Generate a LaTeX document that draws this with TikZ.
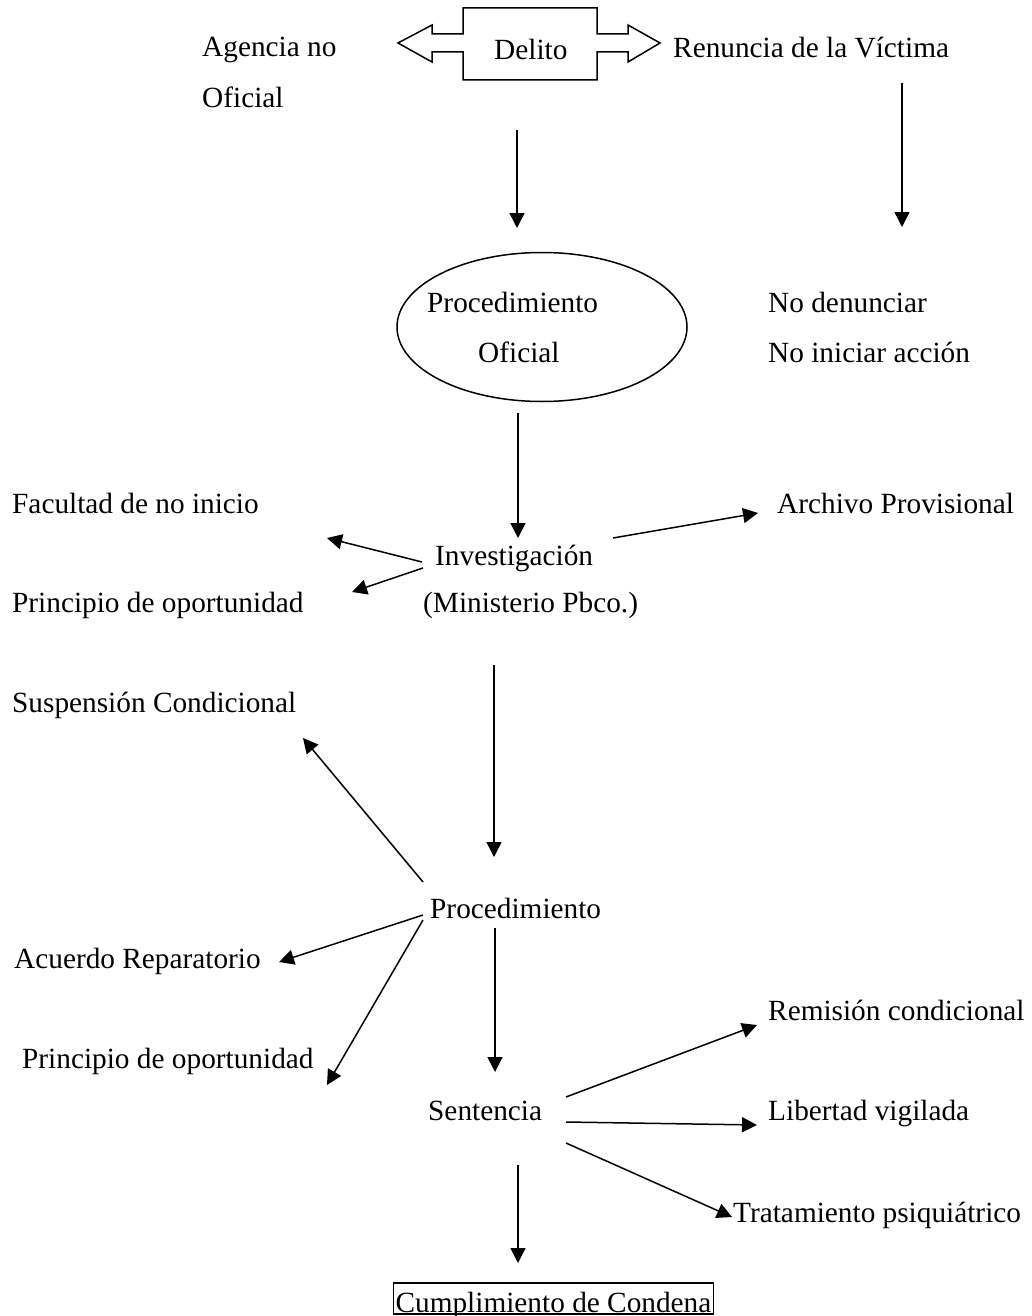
\documentclass[tikz,border=0pt]{standalone}
\usepackage{fontspec}
\setmainfont{Liberation Serif}
\usetikzlibrary{arrows.meta,shapes.geometric}
\begin{document}
\begin{tikzpicture}[x=1pt,y=-1pt,
  lbl/.style={anchor=base west,inner sep=0pt,font=\fontsize{29.3}{35}\selectfont},
  arr/.style={line width=1.5pt,-{Triangle[length=15pt,width=15pt]}},
  shp/.style={line width=1.5pt}]
\useasboundingbox (0,0) rectangle (1031,1316);
% Delito double arrow shape
\draw[shp] (463,8) -- (597,8) -- (597,34) -- (628,34) -- (628,25) -- (660,43) -- (628,62) -- (628,52) -- (597,52) -- (597,80) -- (463,80) -- (463,52) -- (432,52) -- (432,62) -- (398,43) -- (432,25) -- (432,34) -- (463,34) -- cycle;
\node[lbl] (delito) at (494,60) {Delito};
\node[lbl] (agencia) at (202,57) {Agencia no};
\node[lbl] (agencia2) at (202,108) {Oficial};
\node[lbl] (renuncia) at (673,58) {Renuncia de la Víctima};
% ellipse
\node[ellipse,draw,line width=1.5pt,minimum width=290pt,minimum height=149pt,inner sep=0pt] (elip) at (542,327) {};
\node[lbl] (procof) at (427,312) {Procedimiento};
\node[lbl] (procof2) at (478,362) {Oficial};
\node[lbl] (nodenun) at (768,312) {No denunciar};
\node[lbl] (noinic) at (768,362) {No iniciar acción};
\node[lbl] (facultad) at (12,513) {Facultad de no inicio};
\node[lbl] (archivo) at (777,513) {Archivo Provisional};
\node[lbl] (investig) at (435,565) {Investigación};
\node[lbl] (minist) at (423,612) {(Ministerio Pbco.)};
\node[lbl] (princ1) at (12,612) {Principio de oportunidad};
\node[lbl] (suspension) at (12,712) {Suspensión Condicional};
\node[lbl] (procedim) at (430,918) {Procedimiento};
\node[lbl] (acuerdo) at (14,968) {Acuerdo Reparatorio};
\node[lbl] (princ2) at (22,1068) {Principio de oportunidad};
\node[lbl] (remision) at (768,1020) {Remisión condicional};
\node[lbl] (sentencia) at (428,1120) {Sentencia};
\node[lbl] (libertad) at (768,1120) {Libertad vigilada};
\node[lbl] (tratam) at (733,1222) {Tratamiento psiquiátrico};
\node[lbl,draw,line width=1.2pt,inner sep=2pt,text height=27pt,text depth=0pt] (cumpl) at (393,1312) {Cumplimiento de Condena};
% arrow endpoints
\coordinate (a1s) at (517,130); \coordinate (a1e) at (517,228);
\coordinate (a2s) at (902,83); \coordinate (a2e) at (902,227);
\coordinate (a3s) at (518,413); \coordinate (a3e) at (518,538);
\coordinate (a4s) at (422,562); \coordinate (a4e) at (327,538);
\coordinate (a5s) at (423,568); \coordinate (a5e) at (352,592);
\coordinate (a6s) at (613,538); \coordinate (a6e) at (758,513);
\coordinate (a7s) at (494,665); \coordinate (a7e) at (494,857);
\coordinate (a8s) at (423,882); \coordinate (a8e) at (303,738);
\coordinate (a9s) at (423,915); \coordinate (a9e) at (279,962);
\coordinate (a10s) at (423,920); \coordinate (a10e) at (327,1085);
\coordinate (a11s) at (495,928); \coordinate (a11e) at (495,1072);
\coordinate (a12s) at (566,1097); \coordinate (a12e) at (757,1025);
\coordinate (a13s) at (566,1122); \coordinate (a13e) at (757,1125);
\coordinate (a14s) at (566,1143); \coordinate (a14e) at (732,1217);
\coordinate (a15s) at (518,1165); \coordinate (a15e) at (518,1263);
\foreach \i in {1,...,15} {\draw[arr] (a\i s) -- (a\i e);}
\end{tikzpicture}
\end{document}
